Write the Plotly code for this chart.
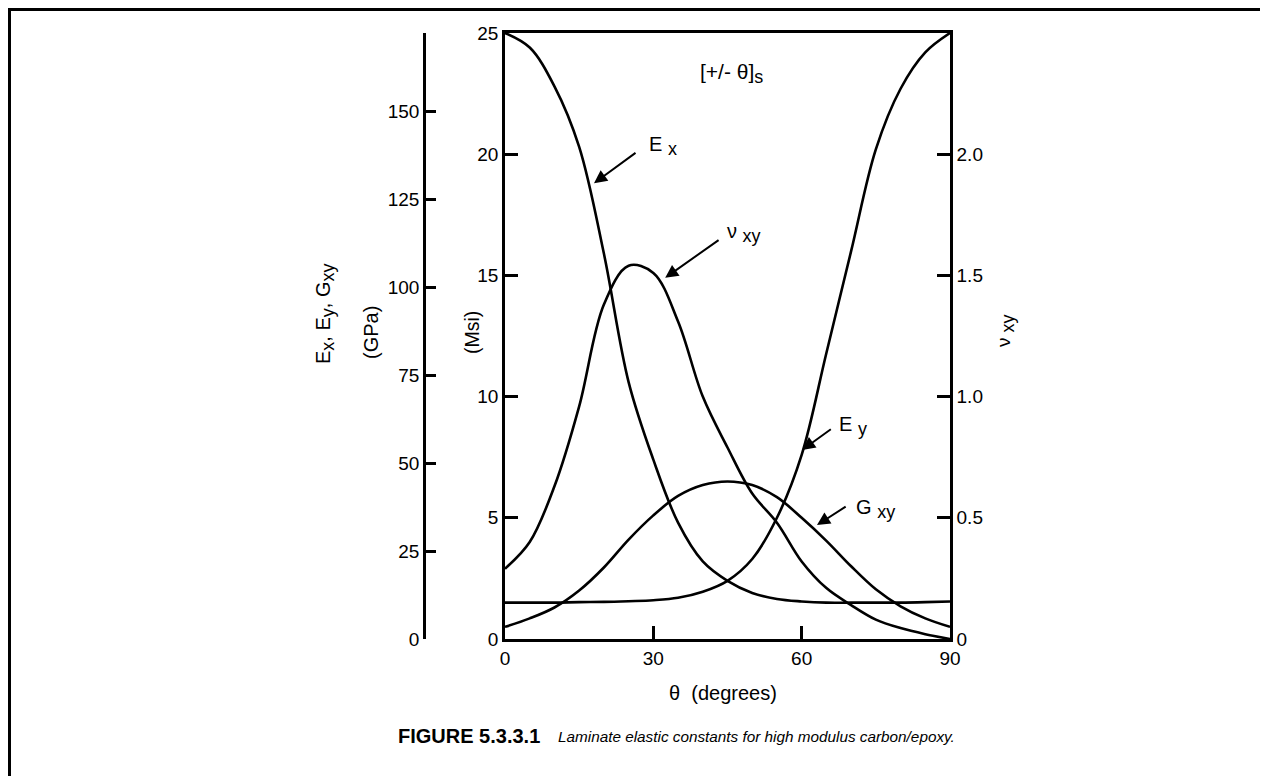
import plotly.graph_objects as go

# laminate [+/- theta]_s, high modulus carbon/epoxy
theta = [0, 5, 10, 15, 20, 25, 30, 35, 40, 45, 50, 55, 60, 65, 70, 75, 80, 85, 90]

# moduli in Msi (left inner axis)
ex_msi = [25.0, 24.4, 22.8, 20.3, 15.9, 10.6, 7.4, 4.8, 3.2, 2.4, 1.9, 1.65, 1.55,
          1.5, 1.5, 1.5, 1.5, 1.52, 1.55]
ey_msi = [1.5, 1.5, 1.5, 1.52, 1.53, 1.56, 1.6, 1.7, 1.95, 2.4, 3.3, 5.0, 7.6,
          11.8, 16.0, 20.2, 22.7, 24.2, 25.0]
gxy_msi = [0.5, 0.85, 1.3, 2.0, 2.95, 4.1, 5.1, 5.9, 6.35, 6.5, 6.35, 5.85, 5.0,
           4.05, 3.0, 2.05, 1.35, 0.85, 0.5]

# Poisson's ratio (right axis)
nu_xy = [0.29, 0.40, 0.63, 0.96, 1.38, 1.54, 1.51, 1.31, 1.0, 0.79, 0.60, 0.48,
         0.32, 0.21, 0.14, 0.08, 0.045, 0.02, 0.0]

x_ticks = [0, 30, 60, 90]
msi_ticks = [0, 5, 10, 15, 20, 25]
gpa_ticks = [0, 25, 50, 75, 100, 125, 150]
nu_ticks = [0, 0.5, 1.0, 1.5, 2.0]
nu_labels = ["0", "0.5", "1.0", "1.5", "2.0"]

MSI_TO_GPA = 6.8948
FONT = "Liberation Sans, Arial, sans-serif"
OFF = 8  # browser body margin
W, H = 1268 - OFF, 776 - OFF
# plot area in page pixels: x 505..950, y 33..639
L, R, T, B = 300 - OFF, 1268 - 950, 33 - OFF, 776 - 639
PW, PH = W - L - R, H - T - B


def px(xp, yp):
    # page pixel -> paper coords
    return (xp - OFF - L) / PW, (H - B - (yp - OFF)) / PH


def sub(base, s, size=17):
    return f"{base}<sub><span style='font-size:{size}px'>{s}</span></sub>"


line = dict(color="black", width=2.6, shape="spline", smoothing=1.0)

fig = go.Figure()
for ys in (ex_msi, ey_msi, gxy_msi):
    fig.add_trace(go.Scatter(x=theta, y=ys, mode="lines", line=line,
                             showlegend=False, hoverinfo="skip"))
fig.add_trace(go.Scatter(x=theta, y=nu_xy, mode="lines", line=line, yaxis="y2",
                         showlegend=False, hoverinfo="skip"))
# dummy trace so the GPa axis is drawn
fig.add_trace(go.Scatter(x=[None], y=[None], yaxis="y3", showlegend=False))

x0 = (505 - OFF - L) / PW
ax_common = dict(showgrid=False, zeroline=False, showline=True, linecolor="black",
                 linewidth=2.5, ticks="inside", ticklen=13, tickwidth=2.5,
                 tickcolor="black", tickfont=dict(size=19, color="black", family=FONT))

fig.update_layout(
    width=W, height=H,
    margin=dict(l=L, r=R, t=T, b=B),
    plot_bgcolor="white", paper_bgcolor="white",
    font=dict(family=FONT, size=19, color="black"),
    xaxis=dict(domain=[x0, 1], range=[0, 90], tickvals=x_ticks, mirror=True,
               **ax_common),
    yaxis=dict(range=[0, 25], tickvals=msi_ticks, **ax_common),
    yaxis2=dict(range=[0, 2.5], tickvals=nu_ticks, ticktext=nu_labels,
                overlaying="y", side="right", anchor="x", **ax_common),
    yaxis3=dict(range=[0, 25 * MSI_TO_GPA], tickvals=gpa_ticks + [25 * MSI_TO_GPA],
                ticktext=[str(v) for v in gpa_ticks] + [""],
                overlaying="y", side="left", anchor="free",
                position=(424 - OFF - L) / PW, **{**ax_common, "ticklen": 10}),
)

anns = []


def label(text, xp, yp, size=20, angle=0, xanchor="center", yanchor="middle"):
    xx, yy = px(xp, yp)
    anns.append(dict(text=text, x=xx, y=yy, xref="paper", yref="paper",
                     showarrow=False, textangle=angle, xanchor=xanchor,
                     yanchor=yanchor, font=dict(size=size, family=FONT, color="black")))


label(sub("E", "x", 18) + ", " + sub("E", "y", 18) + ", " + sub("G", "xy", 18),
      325, 314, angle=-90)
label("(GPa)", 371, 333, angle=-90)
label("(Msi)", 472, 333, size=19.5, angle=-90)
label(sub("ν", " xy", 18), 1005, 331, size=19, angle=-90)
label("θ  (degrees)", 723, 693)
label("[+/- θ]" + sub("", "s", 18), 698, 73, size=21, xanchor="left")
label(sub("E ", "x", 18), 647, 146, size=20, xanchor="left")
label(sub("ν ", "xy", 18), 725, 233, size=20, xanchor="left")
label(sub("E ", "y", 18), 837, 426, size=20, xanchor="left")
label(sub("G ", "xy", 18), 854, 509, size=20, xanchor="left")
label("<b>FIGURE 5.3.3.1</b>", 396, 736, size=20, xanchor="left")
label("<i>Laminate elastic constants for high modulus carbon/epoxy.</i>",
      556, 736, size=15.3, xanchor="left")

# pointer arrows (head, tail) in data coords
arrows = [((18.0, 18.8), (26.7, 20.1)),
          ((32.4, 14.9), (43.5, 16.5)),
          ((60.1, 7.8), (66.2, 8.7)),
          ((63.1, 4.7), (69.2, 5.5))]
for (hx, hy), (tx, ty) in arrows:
    anns.append(dict(x=hx, y=hy, ax=tx, ay=ty, xref="x", yref="y", axref="x",
                     ayref="y", text="", showarrow=True, arrowhead=2,
                     arrowsize=1.3, arrowwidth=2, arrowcolor="black"))

fig.update_layout(annotations=anns)

# outer figure frame (left and top edges visible)
fx0, fy0 = px(9.5, 9.5)
fx1, fy1 = px(1400, 900)
fig.add_shape(type="rect", xref="paper", yref="paper", x0=fx0, y0=fy1, x1=fx1, y1=fy0,
              line=dict(color="black", width=3))

fig.write_html("out.html")
